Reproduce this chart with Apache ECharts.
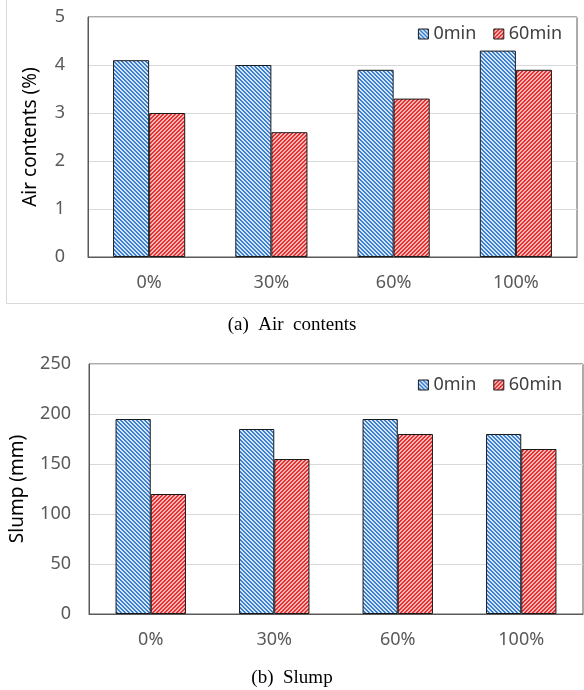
<!DOCTYPE html>
<html>
<head>
<meta charset="utf-8">
<script src="https://cdn.jsdelivr.net/npm/echarts@6/dist/echarts.min.js"></script>
<style>
html,body{margin:0;padding:0;background:#fff;}
#chart{width:584px;height:690px;}
</style>
</head>
<body>
<div id="chart"></div>
<script>
// ---- data ----
const categories = ['0%', '30%', '60%', '100%'];
const seriesNames = ['0min', '60min'];
const air0min = [4.1, 4.0, 3.9, 4.3];
const air60min = [3.0, 2.6, 3.3, 3.9];
const slump0min = [195, 185, 195, 180];
const slump60min = [120, 155, 180, 165];
const airAxis = { min: 0, max: 5, interval: 1 };
const slumpAxis = { min: 0, max: 250, interval: 50 };

// ---- hatch patterns ----
function hatch(dark, light, down) {
  const c = document.createElement('canvas');
  c.width = 4; c.height = 4;
  const ctx = c.getContext('2d');
  for (let x = 0; x < 4; x++) {
    for (let y = 0; y < 4; y++) {
      const k = down ? ((x - y + 8) % 4) : ((x + y) % 4);
      ctx.fillStyle = (k < 2) ? dark : light;
      ctx.fillRect(x, y, 1, 1);
    }
  }
  return { image: c, repeat: 'repeat' };
}
const bluePat = hatch('#3b80d0', '#d6e6f7', true);
const redPat = hatch('#e83030', '#f8b8b8', false);

const chart = echarts.init(document.getElementById('chart'), null, { renderer: 'canvas' });
const labelFont = '"Noto Sans", sans-serif';
const labelColor = '#595959';

function yAxisFor(idx, ax, name, gap, margin) {
  return {
    gridIndex: idx, type: 'value', min: ax.min, max: ax.max, interval: ax.interval,
    name: name, nameLocation: 'middle', nameGap: gap, nameRotate: 90,
    nameTextStyle: { fontFamily: labelFont, fontSize: 19, color: '#000' },
    axisLine: { show: true, lineStyle: { color: '#595959', width: 1 } },
    axisTick: { show: false },
    axisLabel: { fontFamily: labelFont, fontSize: 18, color: labelColor, margin: margin },
    splitLine: { show: true, lineStyle: { color: '#d9d9d9', width: 1 } }
  };
}
function xAxisFor(idx) {
  return {
    gridIndex: idx, type: 'category', data: categories,
    axisLine: { show: true, lineStyle: { color: '#595959', width: 1 } },
    axisTick: { show: false },
    axisLabel: { fontFamily: labelFont, fontSize: 18, color: labelColor, margin: 17 }
  };
}
function barSeries(name, data, idx, pat, gap) {
  return {
    type: 'bar', name: name, data: data, xAxisIndex: idx, yAxisIndex: idx,
    barGap: '0%', barCategoryGap: gap,
    itemStyle: { color: pat, borderColor: '#1a1a1a', borderWidth: 1 },
    emphasis: { disabled: true }
  };
}
function legendFor(idx, top) {
  return {
    data: seriesNames, right: 17, top: top, orient: 'horizontal',
    icon: 'rect', itemWidth: 10, itemHeight: 10, itemGap: 17,
    textStyle: { fontFamily: labelFont, fontSize: 18, color: '#404040' },
    itemStyle: { borderColor: '#1a1a1a', borderWidth: 1 },
    selectedMode: false
  };
}

const captionStyle = { fontFamily: '"Liberation Serif", serif', fontSize: 19, fontWeight: 'normal', color: '#000' };
const option = {
  animation: false,
  backgroundColor: '#ffffff',
  title: [
    { text: '(a)  Air  contents', left: 'center', top: 311, textStyle: captionStyle },
    { text: '(b)  Slump', left: 'center', top: 664, textStyle: captionStyle }
  ],
  legend: [legendFor(0, 20), legendFor(1, 371)],
  grid: [
    { left: 88, top: 17, right: 7, height: 240, show: true, borderColor: '#595959', borderWidth: 1, containLabel: false },
    { left: 88, top: 364, right: 1, height: 250, show: true, borderColor: '#595959', borderWidth: 1, containLabel: false }
  ],
  xAxis: [xAxisFor(0), xAxisFor(1)],
  yAxis: [
    yAxisFor(0, airAxis, 'Air contents (%)', 48, 23),
    yAxisFor(1, slumpAxis, 'Slump (mm)', 62, 18)
  ],
  series: [
    barSeries('0min', air0min, 0, bluePat, '41%'),
    barSeries('60min', air60min, 0, redPat, '41%'),
    barSeries('0min', slump0min, 1, bluePat, '43%'),
    barSeries('60min', slump60min, 1, redPat, '43%')
  ],
  graphic: [
    { type: 'polyline', silent: true, shape: { points: [[6.5, 0], [6.5, 303.5], [584, 303.5]] },
      style: { stroke: '#d9d9d9', lineWidth: 1, fill: null } }
  ]
};
chart.setOption(option);
</script>
</body>
</html>
